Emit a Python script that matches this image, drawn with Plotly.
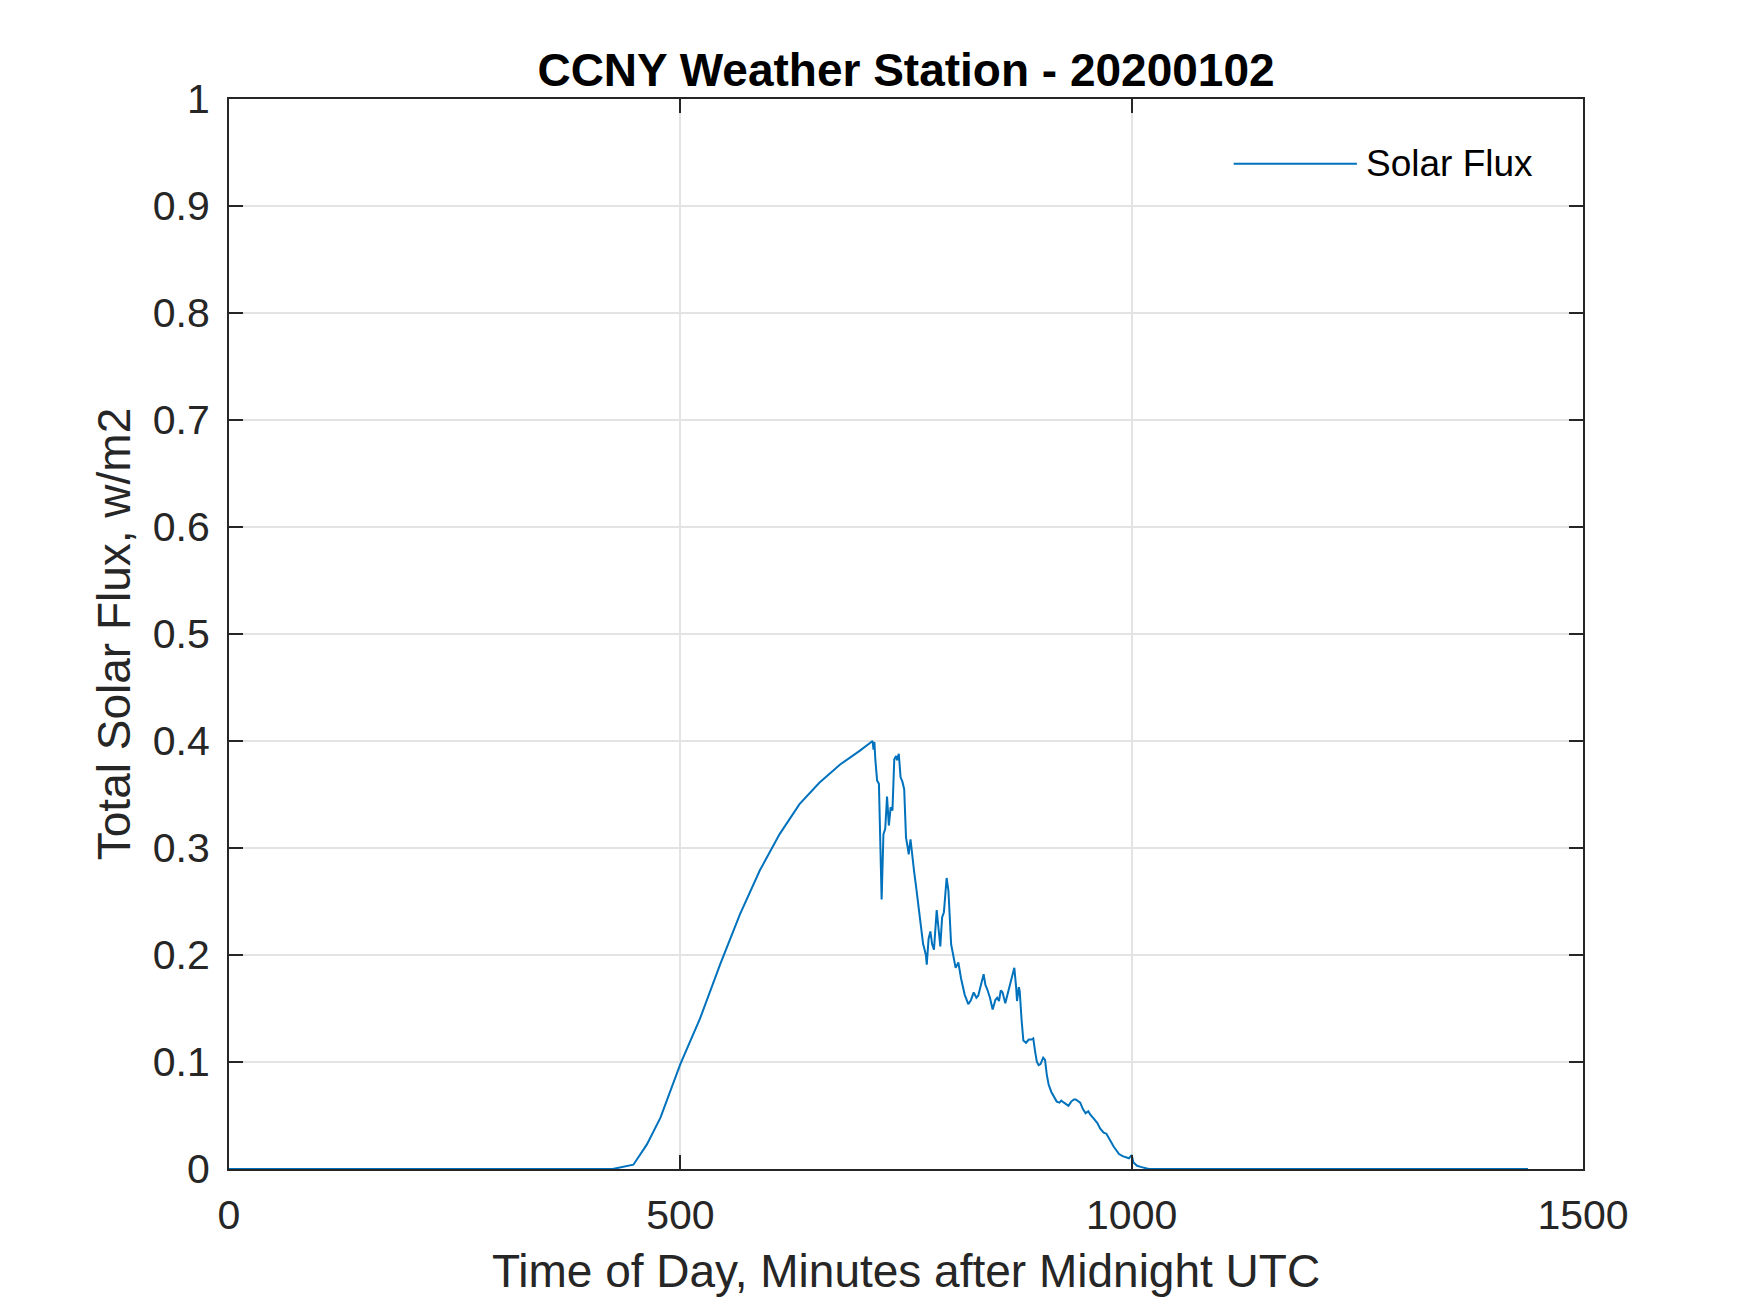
import plotly.graph_objects as go

# minutes after midnight UTC
minutes = [0, 425, 448, 463, 478, 500, 522, 544, 566, 588, 610, 632, 654, 677, 699, 711,
           713, 714, 715, 716, 718, 720, 723, 725, 727, 729, 731, 733, 735, 737, 739, 740,
           742, 744, 746, 748, 750, 752, 753, 755, 757, 759, 761, 763, 765, 767, 769, 770,
           772, 773, 775, 777, 779, 781, 783, 784, 786, 788, 790, 792, 795, 797, 800, 803,
           805, 808, 811, 815, 819, 822, 825, 828, 830, 833, 836, 838, 840, 843, 846, 849,
           851, 853, 855, 857, 860, 863, 866, 868, 870, 872, 873, 875, 876, 878, 880, 883,
           886, 889, 891, 893, 895, 897, 899, 902, 904, 906, 908, 911, 914, 917, 920, 922,
           925, 928, 930, 933, 936, 938, 941, 943, 946, 949, 952, 954, 958, 962, 965, 969,
           972, 975, 978, 980, 983, 986, 990, 993, 997, 999, 1000, 1002, 1006, 1010, 1015,
           1019, 1439]

solar_flux = [0, 0, 0.004, 0.023, 0.048, 0.098, 0.141, 0.191, 0.238, 0.279, 0.313, 0.341,
              0.361, 0.378, 0.391, 0.398, 0.400, 0.392, 0.399, 0.383, 0.363, 0.360, 0.252,
              0.313, 0.318, 0.348, 0.321, 0.338, 0.335, 0.383, 0.386, 0.382, 0.388, 0.366,
              0.362, 0.355, 0.310, 0.300, 0.294, 0.308, 0.290, 0.278, 0.265, 0.250, 0.235,
              0.219, 0.210, 0.207, 0.200, 0.191, 0.215, 0.222, 0.210, 0.205, 0.230, 0.242,
              0.225, 0.208, 0.235, 0.240, 0.272, 0.260, 0.210, 0.195, 0.188, 0.193, 0.178,
              0.163, 0.154, 0.158, 0.165, 0.160, 0.162, 0.172, 0.182, 0.172, 0.168, 0.160,
              0.149, 0.158, 0.160, 0.157, 0.167, 0.165, 0.155, 0.165, 0.175, 0.180, 0.188,
              0.170, 0.157, 0.170, 0.166, 0.140, 0.120, 0.118, 0.121, 0.121, 0.122, 0.110,
              0.100, 0.097, 0.098, 0.104, 0.102, 0.088, 0.079, 0.072, 0.068, 0.063, 0.062,
              0.064, 0.062, 0.060, 0.059, 0.063, 0.065, 0.065, 0.063, 0.062, 0.056, 0.052,
              0.054, 0.051, 0.047, 0.043, 0.038, 0.034, 0.033, 0.029, 0.024, 0.021, 0.017,
              0.014, 0.012, 0.011, 0.010, 0.012, 0.013, 0.006, 0.003, 0.002, 0.0005, 0, 0]

x_ticks = [0, 500, 1000, 1500]
y_ticks = [0, 0.1, 0.2, 0.3, 0.4, 0.5, 0.6, 0.7, 0.8, 0.9, 1]
y_tick_text = ['0', '0.1', '0.2', '0.3', '0.4', '0.5', '0.6', '0.7', '0.8', '0.9', '1']

line_color = '#0072BD'
axis_color = '#262626'
grid_color = '#e3e3e3'
font_name = 'Liberation Sans, Arial, sans-serif'

fig = go.Figure()
fig.add_trace(go.Scatter(x=minutes, y=solar_flux, mode='lines', name='Solar Flux',
                         line=dict(color=line_color, width=2), showlegend=False))

axis_common = dict(showline=True, linecolor=axis_color, linewidth=2, mirror='ticks',
                   ticks='inside', ticklen=14, tickwidth=2, tickcolor=axis_color,
                   showgrid=True, gridcolor=grid_color, gridwidth=2, zeroline=False,
                   tickfont=dict(family=font_name, size=41, color=axis_color))

fig.update_xaxes(range=[0, 1500], tickvals=x_ticks, ticklabelstandoff=9,
                 title=dict(text='Time of Day, Minutes after Midnight UTC', standoff=18,
                            font=dict(family=font_name, size=46, color=axis_color)),
                 **axis_common)
fig.update_yaxes(range=[0, 1], tickvals=y_ticks, ticktext=y_tick_text, ticklabelstandoff=9,
                 title=dict(text='Total Solar Flux, w/m2', standoff=8,
                            font=dict(family=font_name, size=46, color=axis_color)),
                 **axis_common)

# legend drawn by hand so the sample line matches the reference length
fig.add_shape(type='line', xref='paper', yref='paper', x0=0.742, x1=0.833, y0=0.9395, y1=0.9395,
              line=dict(color=line_color, width=2))
fig.add_annotation(xref='paper', yref='paper', x=0.838, y=0.9395, text='Solar Flux',
                   showarrow=False, xanchor='left', yanchor='middle',
                   font=dict(family=font_name, size=37, color='black'))

fig.update_layout(
    width=1750, height=1313,
    margin=dict(l=221, r=175, t=91, b=152),
    paper_bgcolor='white', plot_bgcolor='white',
    title=dict(text='<b>CCNY Weather Station - 20200102</b>', x=0.5, xref='paper',
               xanchor='center', y=0.953, yanchor='middle',
               font=dict(family=font_name, size=46, color='black')),
)

fig.write_html('out.html')
